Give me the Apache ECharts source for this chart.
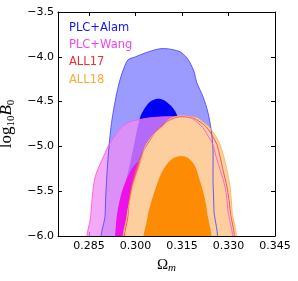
<!DOCTYPE html>
<html><head><meta charset="utf-8">
<script src="https://cdn.jsdelivr.net/npm/echarts@6/dist/echarts.min.js"></script>
<style>html,body{margin:0;padding:0;background:#fff}#c{width:298px;height:281px}</style>
</head><body><div id="c"></div>
<script>
// ---- data (Omega_m, log10 B0) contour boundaries ----
const legendLabels = ['PLC+Alam', 'PLC+Wang', 'ALL17', 'ALL18'];
const xTickValues = [0.285, 0.300, 0.315, 0.330, 0.345];
const yTickValues = [-6.0, -5.5, -5.0, -4.5, -4.0, -3.5];

const alam2 = [[0.2897,-6.1],[0.2902,-5.765],[0.2905,-5.486],[0.2911,-5.151],[0.2918,-4.871],[0.2924,-4.704],[0.2937,-4.447],[0.2950,-4.257],[0.2963,-4.123],[0.2976,-4.033],[0.3000,-4.000],[0.3024,-3.966],[0.3053,-3.932],[0.3079,-3.910],[0.3102,-3.910],[0.3121,-3.921],[0.3144,-3.944],[0.3163,-4.000],[0.3176,-4.067],[0.3189,-4.167],[0.3198,-4.290],[0.3218,-4.447],[0.3234,-4.625],[0.3244,-4.815],[0.3250,-5.039],[0.3250,-5.374],[0.3253,-5.709],[0.3253,-6.1]];
const alam1 = [[0.2944,-6.1],[0.2950,-5.765],[0.2963,-5.486],[0.2976,-5.285],[0.2985,-5.151],[0.2995,-4.983],[0.3005,-4.815],[0.3011,-4.726],[0.3018,-4.648],[0.3031,-4.570],[0.3047,-4.503],[0.3069,-4.469],[0.3089,-4.480],[0.3111,-4.536],[0.3127,-4.603],[0.3137,-4.681],[0.3150,-4.871],[0.3160,-5.262],[0.3163,-6.1]];
const wang2 = [[0.2853,-6.1],[0.2856,-5.765],[0.2863,-5.486],[0.2869,-5.352],[0.2879,-5.251],[0.2892,-5.151],[0.2911,-5.005],[0.2931,-4.894],[0.2956,-4.782],[0.2982,-4.726],[0.3008,-4.704],[0.3047,-4.681],[0.3095,-4.670],[0.3144,-4.670],[0.3176,-4.681],[0.3198,-4.726],[0.3218,-4.793],[0.3234,-4.883],[0.3250,-4.983],[0.3260,-5.117],[0.3273,-5.262],[0.3289,-5.453],[0.3298,-5.709],[0.3302,-6.1]];
const wang1 = [[0.2931,-6.1],[0.2934,-6.0],[0.2940,-5.765],[0.2953,-5.542],[0.2966,-5.408],[0.2979,-5.307],[0.2992,-5.229],[0.3008,-5.173],[0.3031,-5.173],[0.3053,-5.318],[0.3066,-5.598],[0.3073,-6.1]];
const all17_2 = [[0.2973,-6.1],[0.2976,-5.765],[0.2982,-5.542],[0.2995,-5.318],[0.3011,-5.151],[0.3031,-5.017],[0.3063,-4.849],[0.3095,-4.737],[0.3137,-4.670],[0.3169,-4.670],[0.3185,-4.681],[0.3208,-4.726],[0.3231,-4.793],[0.3250,-4.894],[0.3263,-4.983],[0.3273,-5.117],[0.3282,-5.262],[0.3295,-5.453],[0.3305,-5.709],[0.3308,-6.1]];
const all17_1 = [[0.3050,-6.1],[0.3056,-5.70],[0.3075,-5.45],[0.3105,-5.28],[0.3145,-5.22],[0.3180,-5.30],[0.3200,-5.50],[0.3215,-5.75],[0.3220,-6.1]];
const all18_2 = [[0.2969,-6.1],[0.2973,-5.765],[0.2982,-5.598],[0.2992,-5.430],[0.3008,-5.262],[0.3021,-5.117],[0.3034,-4.983],[0.3063,-4.849],[0.3089,-4.771],[0.3111,-4.693],[0.3144,-4.659],[0.3176,-4.670],[0.3198,-4.681],[0.3221,-4.737],[0.3240,-4.793],[0.3260,-4.894],[0.3273,-4.983],[0.3285,-5.117],[0.3295,-5.262],[0.3305,-5.453],[0.3311,-5.709],[0.3315,-6.1]];
const all18_1 = [[0.3031,-6.1],[0.3037,-5.821],[0.3047,-5.665],[0.3063,-5.486],[0.3082,-5.307],[0.3102,-5.196],[0.3124,-5.128],[0.3147,-5.106],[0.3169,-5.128],[0.3192,-5.218],[0.3205,-5.352],[0.3221,-5.542],[0.3231,-5.732],[0.3237,-6.1]];

// ---- styles ----
const legendColors = ['#1414f0', '#ee44ee', '#f03030', '#ffaa33'];

function region(pts, fill, stroke, lw) {
  return {
    type: 'custom', coordinateSystem: 'cartesian2d', xAxisIndex: 0, yAxisIndex: 0,
    clip: true, silent: true, animation: false,
    data: [pts[0]],
    renderItem: function (params, api) {
      return {
        type: 'polygon',
        shape: { points: pts.map(function (p) { return api.coord(p); }), smooth: 0.3 },
        style: { fill: fill || 'none', stroke: stroke || 'none', lineWidth: lw || 0 }
      };
    }
  };
}

const series = [
  region(alam2, '#9b9bff'),
  region(alam1, '#0000ff'),
  region(wang2, 'rgba(240,140,245,0.75)'),
  region(wang1, '#ec12ec'),
  region(all17_2, 'rgba(255,120,120,0.5)'),
  region(all17_1, '#ff5010'),
  region(all18_2, '#fdcf9e'),
  region(all18_1, '#fd8c04'),
  region(alam2, null, 'rgba(70,70,255,0.85)', 1),
  region(wang2, null, 'rgba(255,90,220,0.9)', 1),
  region(all17_2, null, 'rgba(235,70,70,0.85)', 1),
  region(all18_2, null, 'rgba(255,180,100,0.9)', 1)
];

const fmtY = function (v) { return (v < 0 ? '\u2212' : '') + Math.abs(v).toFixed(1); };
const fmtX = function (v) { return v.toFixed(3); };
const tickFont = { fontFamily: 'DejaVu Sans', fontSize: 11, color: '#000' };
const axisLineStyle = { show: true, lineStyle: { color: '#000', width: 1 } };

const option = {
  animation: false,
  backgroundColor: '#fff',
  grid: { left: 58, right: 23, top: 12, bottom: 45, containLabel: false, outerBoundsMode: 'none' },
  xAxis: [
    {
      type: 'value', min: 0.275, max: 0.345, position: 'bottom',
      axisLine: axisLineStyle, splitLine: { show: false },
      axisTick: { show: true, inside: true, length: 4, customValues: xTickValues, lineStyle: { color: '#000' } },
      axisLabel: Object.assign({ customValues: xTickValues, formatter: fmtX, margin: 5 }, tickFont),
      name: '{o|\u03A9}{s|m}', nameLocation: 'middle', nameGap: 20,
      nameTextStyle: { rich: {
        o: { fontFamily: 'Liberation Serif', fontSize: 15, color: '#000' },
        s: { fontFamily: 'Liberation Serif', fontStyle: 'italic', fontSize: 11, color: '#000', verticalAlign: 'bottom', padding: [7, 0, 0, 0] }
      } }
    },
    {
      type: 'value', min: 0.275, max: 0.345, position: 'top',
      axisLine: axisLineStyle, splitLine: { show: false },
      axisTick: { show: true, inside: true, length: 4, customValues: xTickValues, lineStyle: { color: '#000' } },
      axisLabel: { show: false }
    }
  ],
  yAxis: [
    {
      type: 'value', min: -6.0, max: -3.5, position: 'left',
      axisLine: axisLineStyle, splitLine: { show: false },
      axisTick: { show: true, inside: true, length: 4, customValues: yTickValues, lineStyle: { color: '#000' } },
      axisLabel: Object.assign({ customValues: yTickValues, formatter: fmtY, margin: 4 }, tickFont),
      name: '{a|log}{s|10}{b|B}{s|0}', nameLocation: 'middle', nameGap: 34,
      nameTextStyle: { rich: {
        a: { fontFamily: 'Liberation Serif', fontSize: 17, color: '#000' },
        b: { fontFamily: 'Liberation Serif', fontStyle: 'italic', fontSize: 17, color: '#000' },
        s: { fontFamily: 'Liberation Serif', fontSize: 11, color: '#000', verticalAlign: 'bottom', padding: [8, 0, 0, 0] }
      } }
    },
    {
      type: 'value', min: -6.0, max: -3.5, position: 'right',
      axisLine: axisLineStyle, splitLine: { show: false },
      axisTick: { show: true, inside: true, length: 4, customValues: yTickValues, lineStyle: { color: '#000' } },
      axisLabel: { show: false }
    }
  ],
  graphic: legendLabels.map(function (t, i) {
    return { type: 'text', x: 69, y: 28 + i * 17.2, z: 100,
      style: { text: t, fill: legendColors[i], font: '11.5px "DejaVu Sans"', verticalAlign: 'middle' } };
  }),
  series: series
};

const chart = echarts.init(document.getElementById('c'), null, { renderer: 'canvas' });
chart.setOption(option);
</script>
</body></html>
